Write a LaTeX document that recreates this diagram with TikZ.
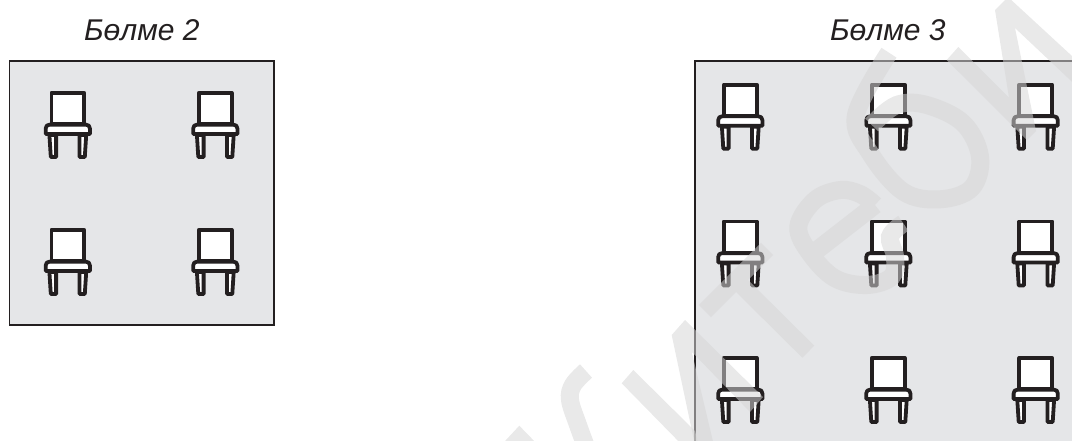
\documentclass[tikz,border=0pt]{standalone}
\usepackage{fontspec}
\setmainfont{Liberation Sans}
\definecolor{ink}{HTML}{231F20}
\definecolor{roomfill}{HTML}{E5E6E8}
\definecolor{wmark}{gray}{0.84}
\tikzset{
  room/.style={draw=ink,line width=1.4pt,fill=roomfill},
  label/.style={inner sep=0pt,anchor=base west,text=ink,font=\itshape\fontsize{30}{30}\selectfont},
  chairline/.style={draw=ink,fill=white,line width=3.8pt,line join=round},
  wmfill/.style={fill=wmark,fill opacity=0.53,draw=none},
  wmline/.style={draw=wmark,draw opacity=0.53,line width=18pt,line cap=butt,line join=miter},
  chair/.pic={
    \path[chairline] (-18.4,44) -- (-17,66) -- (-11.7,66) -- (-11.7,44) -- cycle;
    \path[chairline] (18.4,44) -- (17,66) -- (11.7,66) -- (11.7,44) -- cycle;
    \path[chairline] (-16.4,1.9) rectangle (16.4,33);
    \path[chairline] (-22.1,43) -- (-22.1,37.5) .. controls (-22.1,35) and (-20.5,33.6) .. (-18,33.6) -- (18,33.6) .. controls (20.5,33.6) and (22.1,35) .. (22.1,37.5) -- (22.1,43) -- cycle;
  }
}
\begin{document}
\begin{tikzpicture}[x=1pt,y=-1pt]
\useasboundingbox (0,0) rectangle (1072,440);
\clip (0,0) rectangle (1072,440);
\path[room] (9.5,61) rectangle (274,325);
\path[room] (695,61) rectangle (1085,455);
\node[label] (l2) at (84,40) {Бөлме 2};
\node[label] (l3) at (830,40) {Бөлме 3};
\foreach \cx in {67.8,215.3} \foreach \ty in {91,228}
  \pic at (\cx,\ty) {chair};
\foreach \cx in {740.3,888.3,1035.7} \foreach \ty in {82.7,219.5,356}
  \pic at (\cx,\ty) {chair};
% watermark
\path[wmfill] (946.7,60) -- (958.3,47) -- (1009,97.7) -- (995,10) -- (1008,-3) -- (1085,68) -- (1085,94) -- (1015,28) -- (1036,131) -- (1027,140) -- cycle;
\path[wmline] plot[smooth,tension=0.6] coordinates {(889,52.7) (856,115) (870,153) (903.3,191.7) (940,199.3) (971.7,188) (980,156.7) (963.3,123.3) (926.7,105) (896.7,105) (871.7,125)};
\path[wmline] (815,251.7) -- (875,205)
  plot[smooth,tension=0.6] coordinates {(875,205) (860,194) (840,190) (815,200) (798.3,226.7) (810,253.3) (835,278.3) (866.7,285) (891.7,276.7) (895,256.7) (890,236.7) (903.3,223.3)};
\path[wmline,line width=17pt] (705,311) -- (767,249) (736,280) -- (808.3,351.7);
\path[wmfill] (671.7,335) -- (685,320) -- (763,397) -- (750,412) -- (691.7,351.7) -- (715,450) -- (696,450) -- cycle;
\path[wmfill] (621.7,383.3) -- (633.3,370) -- (695,431) -- (700,450) -- (687,450) -- cycle;
\path[wmline] plot[smooth,tension=0.6] coordinates {(586,371) (573,385) (570,400) (578,425) (588,452)};
\path[wmfill] (506,440) -- (519.3,425.7) -- (540,447) -- (500,447) -- cycle;
\end{tikzpicture}
\end{document}
